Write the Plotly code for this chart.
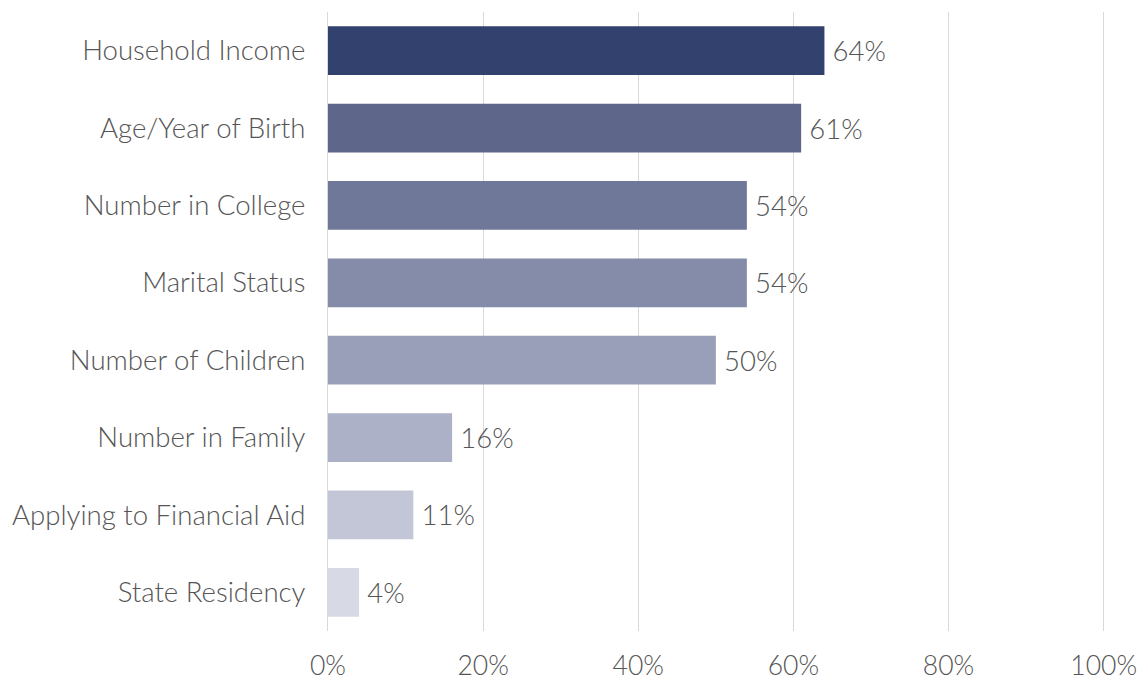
import plotly.graph_objects as go

categories = ["Household Income", "Age/Year of Birth", "Number in College", "Marital Status",
              "Number of Children", "Number in Family", "Applying to Financial Aid", "State Residency"]
values = [64, 61, 54, 54, 50, 16, 11, 4]
colors = ["#33416F", "#5E6689", "#6F7899", "#858CA9", "#9A9FB9", "#ADB1C8", "#C3C6D7", "#D7D9E4"]
x_ticks = [0, 20, 40, 60, 80, 100]
x_tick_labels = ["0%", "20%", "40%", "60%", "80%", "100%"]

font_family = "Lato, 'Open Sans', sans-serif"
text_color = "#555555"

fig = go.Figure(go.Bar(
    x=values,
    y=categories,
    orientation="h",
    marker=dict(color=colors, line=dict(width=0)),
    width=0.63,
    text=[f"\u2009\u200a{v}%" for v in values],
    textposition="outside",
    textfont=dict(size=27.5, color=text_color, family=font_family, weight=300),
    cliponaxis=False,
))

fig.update_layout(
    width=1139, height=679,
    margin=dict(l=328, r=33, t=12, b=48),
    plot_bgcolor="white", paper_bgcolor="white",
    showlegend=False,
    font=dict(family=font_family, size=26, color=text_color, weight=300),
    xaxis=dict(range=[0, 100.3], tickvals=x_ticks, ticktext=x_tick_labels,
               showgrid=True, gridcolor="#D9D9D9", gridwidth=1,
               zeroline=False, showline=False, ticklabelstandoff=16, automargin=False,
               tickfont=dict(size=26.5, color=text_color, weight=300)),
    yaxis=dict(autorange="reversed", showgrid=False, zeroline=False, automargin=False,
               showline=True, linecolor="#D9D9D9", linewidth=1,
               ticklabelstandoff=16, tickfont=dict(size=27.6, color=text_color, weight=300)),
)

fig.write_html("out.html")
